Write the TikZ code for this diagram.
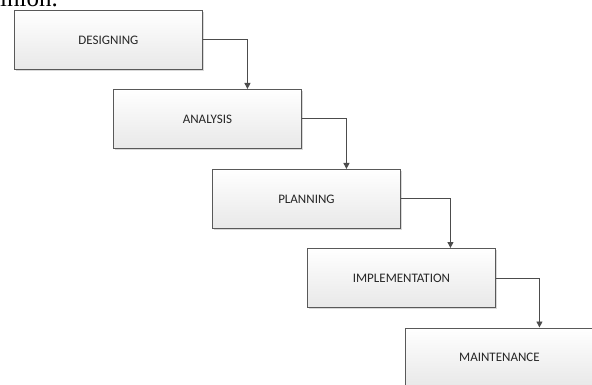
\documentclass[tikz,border=0pt]{standalone}
\usepackage{fontspec}
\setmainfont{Carlito}
\newfontfamily\seriffont{Liberation Serif}
\usetikzlibrary{arrows.meta,shadows}
\begin{document}
\begin{tikzpicture}[x=1pt,y=-1pt,
  stagebox/.style={draw=black!65, line width=0.9pt, minimum width=188pt, minimum height=59pt,
    anchor=north west, inner sep=0pt, top color=white, bottom color=black!9,
    drop shadow={shadow xshift=1.5pt, shadow yshift=-1.5pt, fill=black!25, opacity=0.6},
    text=black!85, font=\fontsize{13}{15}\selectfont},
  flow/.style={draw=black!70, line width=0.9pt, -{Triangle[length=6pt,width=6pt]}}]
\useasboundingbox (0,0) rectangle (592,385);
\clip (0,0) rectangle (592,385);
\node[anchor=base east, inner sep=0pt, font=\seriffont\fontsize{25}{28}\selectfont] (txt) at (58,7) {opinion.};
\node[stagebox] (b1) at (14,10) {DESIGNING};
\node[stagebox] (b2) at (113,89) {ANALYSIS};
\node[stagebox] (b3) at (212,169) {PLANNING};
\node[stagebox] (b4) at (307,248) {IMPLEMENTATION};
\node[stagebox] (b5) at (405,327.5) {MAINTENANCE};
\draw[flow] (b1.east) -| ([xshift=40pt]b2.north);
\draw[flow] (b2.east) -| ([xshift=40pt]b3.north);
\draw[flow] (b3.east) -| ([xshift=49pt]b4.north);
\draw[flow] (b4.east) -| ([xshift=40pt]b5.north);
\end{tikzpicture}
\end{document}
